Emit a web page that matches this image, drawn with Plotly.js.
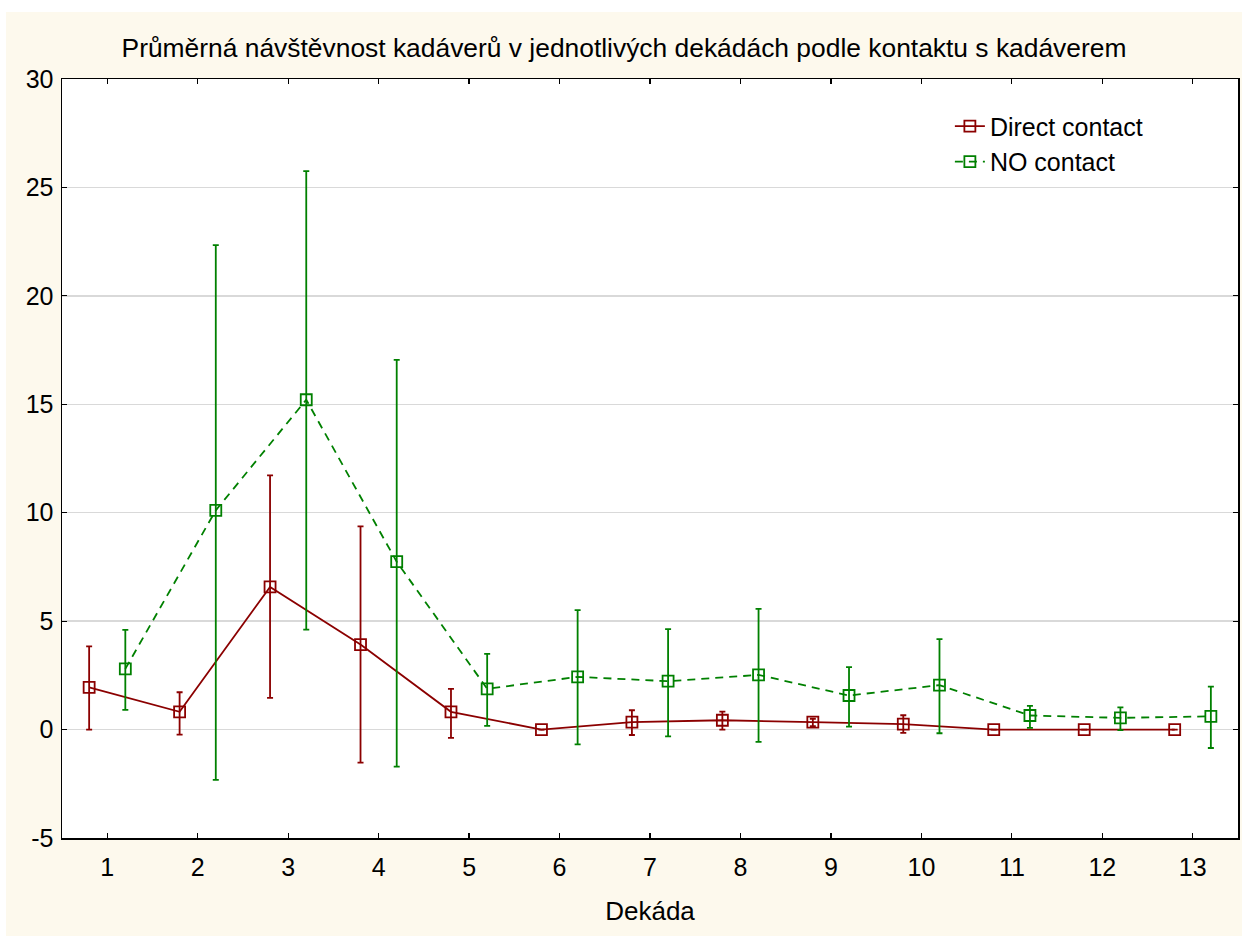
<!DOCTYPE html>
<html>
<head>
<meta charset="utf-8">
<script src="https://cdn.plot.ly/plotly-3.0.1.min.js"></script>
<style>
  html, body { margin: 0; padding: 0; background: #ffffff; }
  #chart { position: absolute; left: 6px; top: 12px; width: 1236px; height: 924px; }
</style>
</head>
<body>
<div id="chart"></div>
<script>
// Decades (categories)
const decades = [1, 2, 3, 4, 5, 6, 7, 8, 9, 10, 11, 12, 13];
const tickLabels = ["1","2","3","4","5","6","7","8","9","10","11","12","13"];
const yTickVals = [-5, 0, 5, 10, 15, 20, 25, 30];
const yTickLabels = ["-5","0","5","10","15","20","25","30"];

// Direct contact: means and error bar bounds
const directMean  = [1.95, 0.82, 6.58, 3.92, 0.82, 0.0, 0.34, 0.43, 0.34, 0.25, 0.0, 0.0, 0.0];
const directUpper = [3.84, 1.72, 11.72, 9.37, 1.88, 0.0, 0.89, 0.83, 0.50, 0.66, 0.0, 0.0, 0.0];
const directLower = [0.0, -0.23, 1.46, -1.52, -0.38, 0.0, -0.25, 0.0, 0.16, -0.15, 0.0, 0.0, 0.0];

// NO contact: means and error bar bounds
const noMean  = [2.80, 10.11, 15.21, 7.74, 1.88, 2.43, 2.23, 2.52, 1.57, 2.05, 0.65, 0.54, 0.61];
const noUpper = [4.60, 22.34, 25.75, 17.05, 3.49, 5.51, 4.63, 5.57, 2.88, 4.17, 1.09, 1.02, 1.98];
const noLower = [0.91, -2.32, 4.61, -1.71, 0.17, -0.68, -0.31, -0.57, 0.14, -0.17, 0.08, -0.03, -0.85];

const offset = 0.2;
const redColor = '#8b0000';
const greenColor = '#008000';

const xDirect = decades.map(d => d - offset);
const xNo = decades.map(d => d + offset);

const traces = [
  {
    name: 'Direct contact',
    x: xDirect, y: directMean,
    type: 'scatter', mode: 'lines+markers',
    line: { color: redColor, width: 1.8 },
    marker: { symbol: 'square-open', size: 11, color: redColor, line: { width: 1.8, color: redColor } },
    error_y: {
      type: 'data', symmetric: false,
      array: directUpper.map((u, i) => u - directMean[i]),
      arrayminus: directMean.map((m, i) => m - directLower[i]),
      color: redColor, thickness: 1.8, width: 3
    }
  },
  {
    name: 'NO contact',
    x: xNo, y: noMean,
    type: 'scatter', mode: 'lines+markers',
    line: { color: greenColor, width: 1.8, dash: '8px,6px' },
    marker: { symbol: 'square-open', size: 11, color: greenColor, line: { width: 1.8, color: greenColor } },
    error_y: {
      type: 'data', symmetric: false,
      array: noUpper.map((u, i) => u - noMean[i]),
      arrayminus: noMean.map((m, i) => m - noLower[i]),
      color: greenColor, thickness: 1.8, width: 3
    }
  }
];

const fontFam = 'Liberation Sans, Arial, sans-serif';
const fs = 25;

const layout = {
  width: 1236, height: 924,
  paper_bgcolor: '#fdf9ed',
  plot_bgcolor: '#ffffff',
  margin: { l: 56, r: 4, t: 67, b: 98 },
  font: { family: fontFam, size: fs, color: '#000000' },
  title: {
    text: 'Průměrná návštěvnost kadáverů v jednotlivých dekádách podle kontaktu s kadáverem',
    font: { family: fontFam, size: 26.4, color: '#000000' },
    x: 0.5, xanchor: 'center', y: 0.961, yanchor: 'middle'
  },
  xaxis: {
    range: [0.5, 13.5],
    tickvals: decades, ticktext: tickLabels,
    showgrid: false, zeroline: false,
    showline: true, linecolor: '#000000', linewidth: 1.5, mirror: 'ticks',
    ticks: 'inside', ticklen: 5, tickwidth: 1.2, tickcolor: '#000000',
    tickfont: { family: fontFam, size: fs, color: '#000000' },
    ticklabelstandoff: 6,
    title: { text: 'Dekáda', font: { family: fontFam, size: 26, color: '#000000' }, standoff: 22 }
  },
  yaxis: {
    range: [-5, 30], tickvals: yTickVals, ticktext: yTickLabels,
    showgrid: true, gridcolor: '#d9d9d9', gridwidth: 1.5,
    zeroline: false,
    showline: true, linecolor: '#000000', linewidth: 1.5, mirror: 'ticks',
    ticks: 'inside', ticklen: 5, tickwidth: 1.2, tickcolor: '#000000',
    tickfont: { family: fontFam, size: fs, color: '#000000' },
    ticklabelstandoff: 2
  },
  showlegend: true,
  legend: {
    x: 0.755, xanchor: 'left', y: 0.968, yanchor: 'top',
    bgcolor: 'rgba(0,0,0,0)', borderwidth: 0,
    font: { family: fontFam, size: fs, color: '#000000' },
    tracegroupgap: 0
  }
};

Plotly.newPlot('chart', traces, layout, { displayModeBar: false, staticPlot: true });
</script>
</body>
</html>
